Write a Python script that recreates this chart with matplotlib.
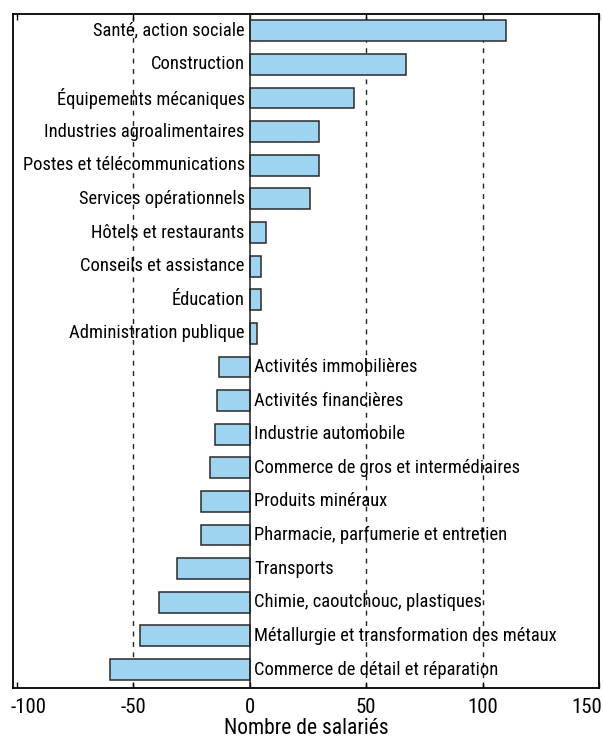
import numpy as np
import matplotlib.pyplot as plt
import matplotlib.transforms as mtransforms

plt.rcParams['font.family'] = ['Roboto Condensed', 'DejaVu Sans']

# secteurs, du haut vers le bas
secteurs = ['Santé, action sociale', 'Construction', 'Équipements mécaniques',
            'Industries agroalimentaires', 'Postes et télécommunications',
            'Services opérationnels', 'Hôtels et restaurants',
            'Conseils et assistance', 'Éducation', 'Administration publique',
            'Activités immobilières', 'Activités financières',
            'Industrie automobile', 'Commerce de gros et intermédiaires',
            'Produits minéraux', 'Pharmacie, parfumerie et entretien',
            'Transports', 'Chimie, caoutchouc, plastiques',
            'Métallurgie et transformation des métaux',
            'Commerce de détail et réparation']
salaries = [110, 67, 45, 30, 30, 26, 7, 5, 5, 3,
            -13, -14, -15, -17, -21, -21, -31, -39, -47, -60]
xticks = [-100, -50, 0, 50, 100, 150]

fig = plt.figure(figsize=(6.03, 7.39), dpi=100)
ax = fig.add_axes([0.0216, 0.069, 0.9718, 0.912])

y = np.arange(len(secteurs))
ax.barh(y, salaries, height=0.62, color='#9fd4f1', edgecolor='#2a2a2a',
        linewidth=1.1, zorder=3)

for xv in [-50, 50, 100]:
    ax.axvline(xv, color='#222222', lw=1, ls=(0, (3.5, 4)), zorder=1)
ax.axvline(0, color='#222222', lw=1.1, zorder=4)

for yi, (s, v) in enumerate(zip(secteurs, salaries)):
    if v >= 0:
        ax.text(-2, yi, s, ha='right', va='center', fontsize=13.3, zorder=5)
    else:
        ax.text(2, yi, s, ha='left', va='center', fontsize=13.3, zorder=5)

ax.set_xlim(-101.5, 150)
ax.set_ylim(len(secteurs) - 0.45, -0.5)
ax.set_yticks([])
ax.set_xticks(xticks)
ax.set_xticklabels([str(t) for t in xticks], fontsize=15)
ax.tick_params(axis='x', direction='in', top=True, length=4, width=1, pad=7)
for sp in ax.spines.values():
    sp.set_linewidth(1.3)
ax.set_xlabel('Nombre de salariés', fontsize=15.5, labelpad=1)

# décaler les étiquettes des bords vers l'intérieur
labs = ax.get_xticklabels()
labs[0].set_transform(labs[0].get_transform() +
                      mtransforms.ScaledTranslation(12 / 100, 0, fig.dpi_scale_trans))
labs[-1].set_transform(labs[-1].get_transform() +
                       mtransforms.ScaledTranslation(-12 / 100, 0, fig.dpi_scale_trans))

fig.savefig('out.png', dpi=100)
